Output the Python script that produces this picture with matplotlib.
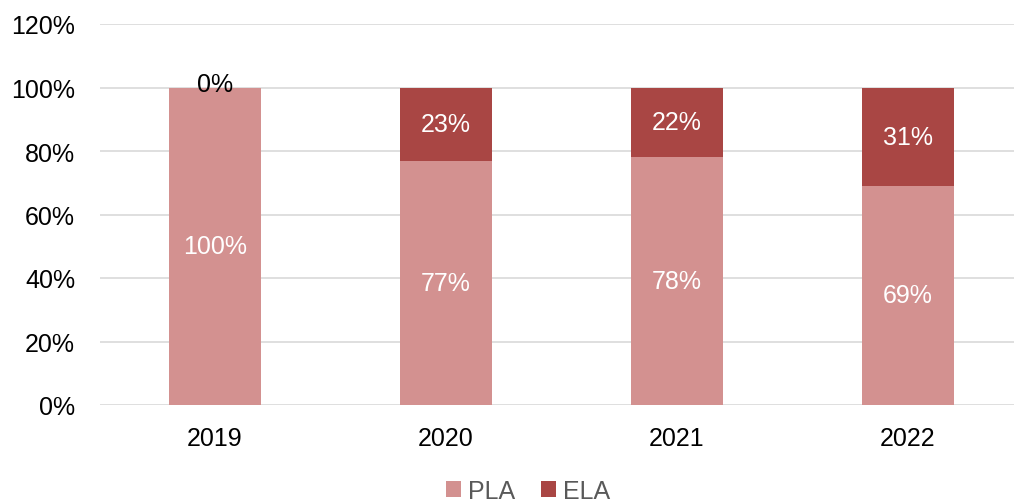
import matplotlib.pyplot as plt
import numpy as np

plt.rcParams['font.family'] = ['Liberation Sans', 'DejaVu Sans']

years = ['2019', '2020', '2021', '2022']
pla = [100, 77, 78, 69]
ela = [0, 23, 22, 31]

c_pla = '#D39190'
c_ela = '#A94644'

fig = plt.figure(figsize=(10.14, 5.02), dpi=100)
ax = fig.add_axes([100/1014, (502-406)/502, 914/1014, 381/502])

x = np.arange(len(years))
w = 0.4
ax.bar(x, pla, w, color=c_pla, label='PLA', zorder=2)
ax.bar(x, ela, w, bottom=pla, color=c_ela, label='ELA', zorder=2)

fs = 18
for i in range(len(years)):
    ax.text(x[i], pla[i]/2, f'{pla[i]}%', ha='center', va='center', color='white', fontsize=fs)
    if ela[i] == 0:
        ax.text(x[i], pla[i] + 1, f'{ela[i]}%', ha='center', va='center', color='black', fontsize=fs)
    else:
        ax.text(x[i], pla[i] + ela[i]/2, f'{ela[i]}%', ha='center', va='center', color='white', fontsize=fs)

ax.set_xlim(-0.498, 3.459)
ax.set_ylim(0, 120)
ax.set_yticks(range(0, 121, 20))
ax.set_yticklabels([f'{v}%' for v in range(0, 121, 20)])
ax.set_xticks(x)
ax.set_xticklabels(years)
ax.tick_params(length=0, labelsize=fs, colors='black')
ax.tick_params(axis='y', pad=18)
ax.tick_params(axis='x', pad=15)
ax.grid(axis='y', color='#D9D9D9', linewidth=1.2, zorder=0)
for s in ax.spines.values():
    s.set_visible(False)

leg = ax.legend(loc='center', bbox_to_anchor=(528/1014, 10/502), bbox_transform=fig.transFigure,
                ncol=2, frameon=False, fontsize=fs, handlelength=0.6, handleheight=0.6,
                handletextpad=0.3, columnspacing=1.0)
for t in leg.get_texts():
    t.set_color('#595959')

fig.savefig('out.png', dpi=100)
